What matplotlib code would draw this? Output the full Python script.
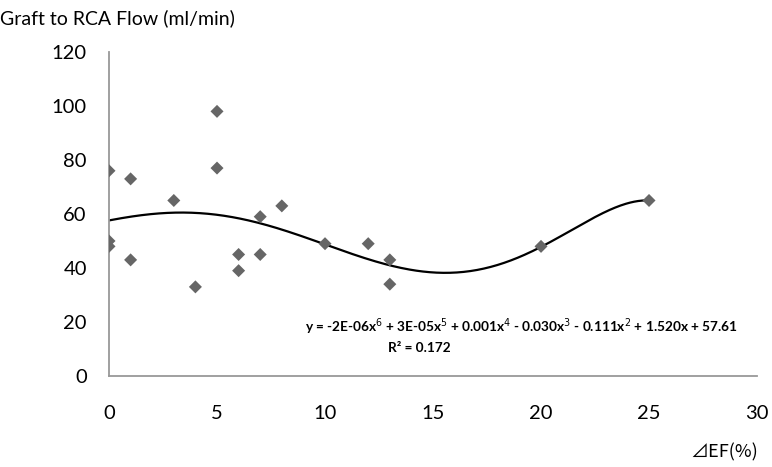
import numpy as np
import matplotlib
matplotlib.use("Agg")
import matplotlib.pyplot as plt

plt.rcParams['font.family'] = ['Lato', 'DejaVu Sans']

ef_change = [0, 0, 0, 1, 1, 3, 4, 5, 5, 6, 6, 7, 7, 8, 10, 12, 13, 13, 20, 25]
flow = [76, 50, 48, 73, 43, 65, 33, 98, 77, 45, 39, 59, 45, 63, 49, 49, 43, 34, 48, 65]
x_ticks = [0, 5, 10, 15, 20, 25, 30]
y_ticks = [0, 20, 40, 60, 80, 100, 120]
equation = "y = -2E-06x$^6$ + 3E-05x$^5$ + 0.001x$^4$ - 0.030x$^3$ - 0.111x$^2$ + 1.520x + 57.61"
r2_text = "R² = 0.172"

fig = plt.figure(figsize=(7.72, 4.67), dpi=100)
ax = fig.add_axes([0.1412, 0.1949, 0.8394, 0.6938])

x = np.array(ef_change, dtype=float)
y = np.array(flow, dtype=float)
coef = np.polyfit(x, y, 6)
xs = np.linspace(x.min(), x.max(), 400)
ax.plot(xs, np.polyval(coef, xs), color='black', lw=1.6, zorder=2)
ax.scatter(x, y, marker='D', s=44, color='#666666', edgecolors='none', zorder=3)

ax.set_xlim(0, 30)
ax.set_ylim(0, 120)
ax.set_xticks(x_ticks)
ax.set_yticks(y_ticks)
ax.tick_params(axis='both', length=0, labelsize=14.5, colors='black')
ax.tick_params(axis='x', pad=21)
ax.tick_params(axis='y', pad=16)
for s in ['top', 'right']:
    ax.spines[s].set_visible(False)
for s in ['left', 'bottom']:
    ax.spines[s].set_color('#999999')
    ax.spines[s].set_linewidth(1.3)

fig.text(0.0, 0.962, "Graft to RCA Flow (ml/min)", fontsize=14, ha='left', va='center')
fig.text(0.982, 0.032, "⊿EF(%)", fontsize=13, ha='right', va='center',
         family=['Noto Sans CJK JP', 'DejaVu Sans'])
ax.text(19.1, 18.1, equation, fontsize=9.8, ha='center', va='center', fontweight='bold')
ax.text(12.9, 10.3, r2_text, fontsize=9.8, ha='left', va='center', fontweight='bold')

fig.savefig("out.png", dpi=100)
